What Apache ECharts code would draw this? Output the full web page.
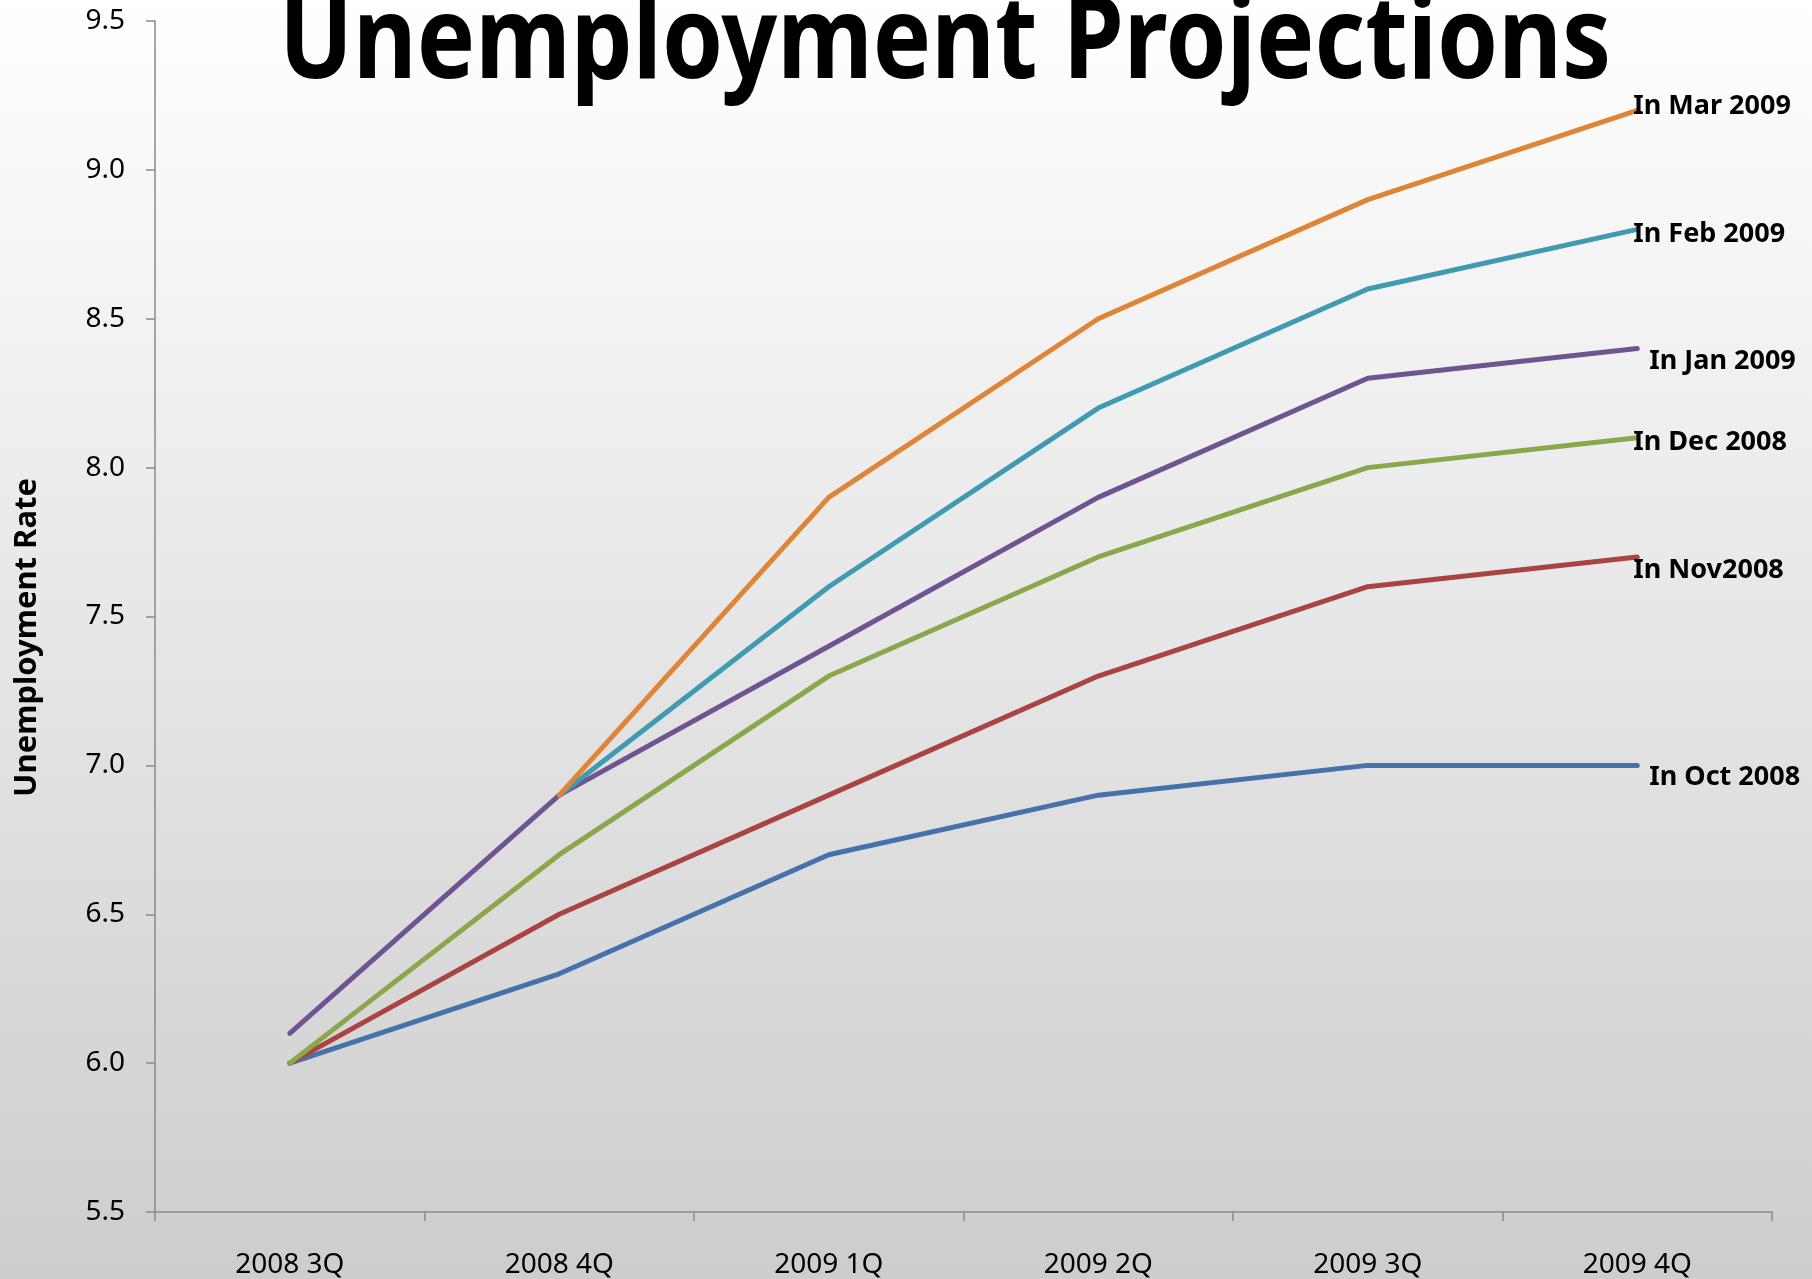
<!DOCTYPE html>
<html>
<head>
<meta charset="utf-8">
<title>Unemployment Projections</title>
<script src="https://cdn.jsdelivr.net/npm/echarts@6/dist/echarts.min.js"></script>
<style>
  html, body { margin: 0; padding: 0; width: 1812px; height: 1279px; overflow: hidden; }
  #chart { width: 1812px; height: 1279px; }
</style>
</head>
<body>
<div id="chart"></div>
<script>
// Quarters projected
const quarters = ['2008 3Q', '2008 4Q', '2009 1Q', '2009 2Q', '2009 3Q', '2009 4Q'];

// Projected unemployment rate (%), by date of projection
const octProj = [6.0, 6.3, 6.7, 6.9, 7.0, 7.0];
const novProj = [6.0, 6.5, 6.9, 7.3, 7.6, 7.7];
const decProj = [6.0, 6.7, 7.3, 7.7, 8.0, 8.1];
const janProj = [6.1, 6.9, 7.4, 7.9, 8.3, 8.4];
const febProj = [null, 6.9, 7.6, 8.2, 8.6, 8.8];
const marProj = [null, 6.9, 7.9, 8.5, 8.9, 9.2];

const seriesNames = ['In Oct 2008', 'In Nov2008', 'In Dec 2008', 'In Jan 2009', 'In Feb 2009', 'In Mar 2009'];

// Value axis range
const yMin = 5.5;
const yMax = 9.5;
const yStep = 0.5;

const FONT = '"Noto Sans", "Open Sans", sans-serif';

const lineColors = ['#4572AA', '#AA4442', '#8AA84B', '#6E5490', '#3F9AB2', '#DE8537'];
const labelOffsets = [[4, 12], [-12, 13], [-12, 4], [4, 13], [-12, 5], [-12, -4]];
const seriesData = [octProj, novProj, decProj, janProj, febProj, marProj];

const chart = echarts.init(document.getElementById('chart'), null, { renderer: 'canvas' });

const series = seriesData.map((d, i) => ({
  name: seriesNames[i],
  type: 'line',
  data: d,
  showSymbol: false,
  symbol: 'none',
  connectNulls: false,
  animation: false,
  lineStyle: { color: lineColors[i], width: 5, cap: 'round', join: 'round' },
  itemStyle: { color: lineColors[i] },
  emphasis: { disabled: true },
  endLabel: {
    show: true,
    formatter: seriesNames[i],
    color: '#000',
    fontFamily: FONT,
    fontWeight: 'bold',
    fontSize: 27,
    offset: labelOffsets[i]
  }
}));

chart.setOption({
  animation: false,
  backgroundColor: {
    type: 'linear', x: 0, y: 0, x2: 0, y2: 1,
    colorStops: [
      { offset: 0, color: '#ffffff' },
      { offset: 1, color: '#cdcdcd' }
    ]
  },
  graphic: [{
    type: 'text',
    x: 945,
    y: 45,
    scaleY: 1.17,
    style: {
      text: 'Unemployment Projections',
      fill: '#000',
      font: 'bold 98px ' + FONT,
      textAlign: 'center',
      textVerticalAlign: 'middle'
    },
    silent: true
  }],
  grid: { left: 155, right: 40, top: 21, bottom: 67, containLabel: false },
  xAxis: {
    type: 'category',
    data: quarters,
    boundaryGap: true,
    axisLine: { show: true, lineStyle: { color: '#8a8a8a', width: 1.5 } },
    axisTick: { show: true, interval: 0, length: 9, lineStyle: { color: '#8a8a8a', width: 1.5 } },
    axisLabel: { color: '#000', fontFamily: FONT, fontSize: 28, margin: 39, interval: 0 },
    splitLine: { show: false }
  },
  yAxis: {
    type: 'value',
    min: yMin,
    max: yMax,
    interval: yStep,
    name: 'Unemployment Rate',
    nameLocation: 'middle',
    nameGap: 112,
    nameRotate: 90,
    nameTextStyle: { color: '#000', fontFamily: FONT, fontWeight: 'bold', fontSize: 31, padding: [0, 42, 0, 0] },
    axisLine: { show: true, lineStyle: { color: '#8a8a8a', width: 1.5 } },
    axisTick: { show: true, length: 9, lineStyle: { color: '#8a8a8a', width: 1.5 } },
    axisLabel: { color: '#000', fontFamily: FONT, fontSize: 28, margin: 30, formatter: v => v.toFixed(1) },
    splitLine: { show: false }
  },
  series: series
});
</script>
</body>
</html>
